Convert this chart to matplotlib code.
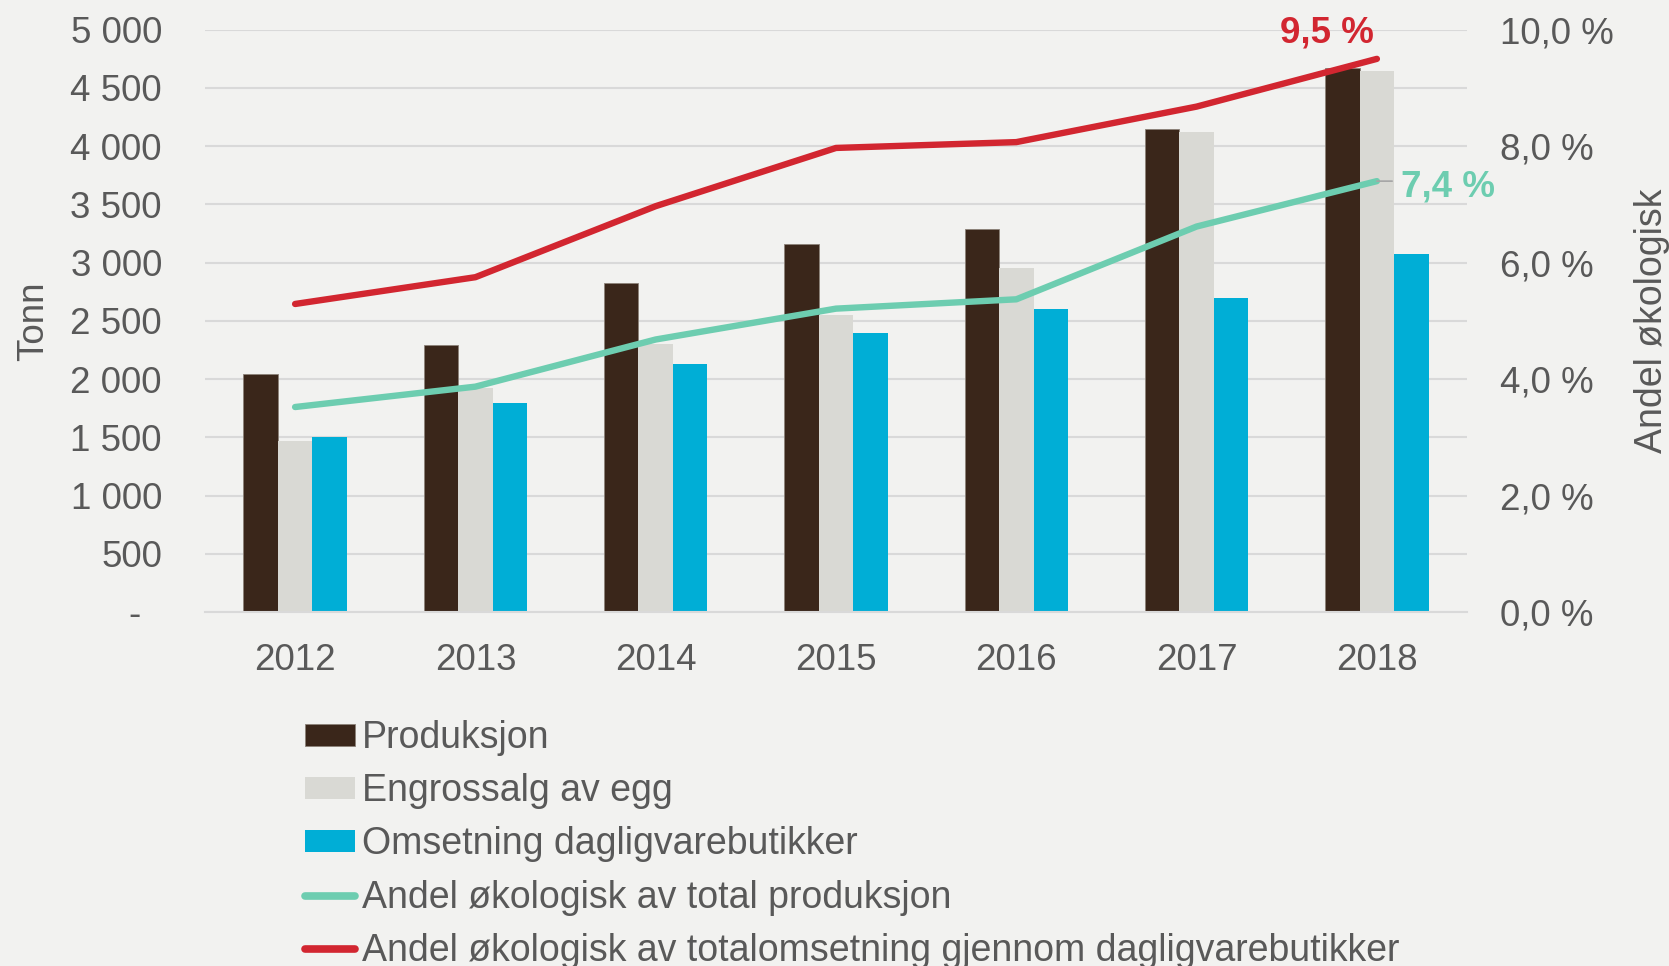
import matplotlib
matplotlib.use("Agg")
import matplotlib.pyplot as plt
import numpy as np
from matplotlib.ticker import FixedLocator, FuncFormatter

plt.rcParams['font.family'] = ['Liberation Sans', 'DejaVu Sans']

years = ["2012", "2013", "2014", "2015", "2016", "2017", "2018"]
produksjon = [2045, 2291, 2824, 3157, 3290, 4146, 4668]
engrossalg = [1471, 1926, 2305, 2554, 2954, 4118, 4644]
omsetning = [1502, 1796, 2130, 2400, 2603, 2694, 3076]
andel_prod = [3.52, 3.87, 4.68, 5.21, 5.37, 6.62, 7.4]
andel_oms = [5.29, 5.75, 6.97, 7.97, 8.07, 8.68, 9.5]

labels = ["Produksjon", "Engrossalg av egg", "Omsetning dagligvarebutikker",
          "Andel økologisk av total produksjon",
          "Andel økologisk av totalomsetning gjennom dagligvarebutikker"]

bg = "#F2F2F0"
c_prod = "#3A261A"
c_eng = "#D9D9D4"
c_oms = "#00AED6"
c_green = "#6DCDB0"
c_red = "#D22630"
txt = "#595959"
fs = 26.5
fs_leg = 27

fig = plt.figure(figsize=(16.69, 9.66), dpi=100, facecolor=bg)
ax = fig.add_axes([0.1228, 0.3665, 0.879 - 0.1228, 0.9692 - 0.3665])
ax.set_facecolor(bg)
ax2 = ax.twinx()

x = np.arange(len(years))
w = 0.191
b1 = ax.bar(x - w, produksjon, w, color=c_prod, edgecolor="#8C8279", linewidth=0.6,
            label=labels[0], zorder=2)
b2 = ax.bar(x, engrossalg, w, color=c_eng, label=labels[1], zorder=2)
b3 = ax.bar(x + w, omsetning, w, color=c_oms, label=labels[2], zorder=2)

l1, = ax2.plot(x, andel_prod, color=c_green, lw=4.6, solid_capstyle='round',
               solid_joinstyle='round', label=labels[3])
l2, = ax2.plot(x, andel_oms, color=c_red, lw=4.6, solid_capstyle='round',
               solid_joinstyle='round', label=labels[4])

ax.set_xlim(-0.5, len(years) - 0.5)
ax.set_ylim(0, 5000)
ax2.set_ylim(0, 10)

ax.yaxis.set_major_locator(FixedLocator(np.arange(0, 5001, 500)))
ax.yaxis.set_major_formatter(FuncFormatter(
    lambda v, p: "-  " if v == 0 else f"{int(v):,}".replace(",", " ")))
ax2.yaxis.set_major_locator(FixedLocator(np.arange(0, 10.01, 2)))
ax2.yaxis.set_major_formatter(FuncFormatter(lambda v, p: f"{v:.1f} %".replace(".", ",")))

ax.set_xticks(x)
ax.set_xticklabels(years)

ax.grid(axis='y', color="#D9D9D9", lw=1.5, zorder=0)
ax.set_axisbelow(True)
for a in (ax, ax2):
    for s in a.spines.values():
        s.set_visible(False)
ax.spines['bottom'].set_visible(True)
ax.spines['bottom'].set_color("#D9D9D9")
ax.spines['bottom'].set_linewidth(1.5)

ax.tick_params(axis='y', length=0, pad=31, labelsize=fs, labelcolor=txt)
ax.tick_params(axis='x', length=0, pad=22, labelsize=fs, labelcolor=txt)
ax2.tick_params(axis='y', length=0, pad=24, labelsize=fs, labelcolor=txt)

ax.set_ylabel("Tonn", fontsize=fs, color=txt, labelpad=14)
ax2.set_ylabel("Andel økologisk", fontsize=27, color=txt, labelpad=14)

# data labels
ax2.annotate("9,5 %", xy=(x[-1], andel_oms[-1]), xytext=(-2, 6), textcoords='offset points',
             ha='right', va='bottom', fontsize=fs, fontweight='bold', color=c_red)
ax2.annotate("7,4 %", xy=(x[-1], andel_prod[-1]), xytext=(17, -4), textcoords='offset points',
             ha='left', va='center', fontsize=fs, fontweight='bold', color=c_green)
ax2.annotate("", xy=(x[-1], andel_prod[-1]), xytext=(11, 0), textcoords='offset points',
             arrowprops=dict(arrowstyle='-', color='#A6A6A6', lw=1.2,
                             shrinkA=0, shrinkB=0))

leg = fig.legend(handles=[b1, b2, b3, l1, l2], labels=labels,
                 loc='upper left', bbox_to_anchor=(305 / 1669, 1 - 720 / 966),
                 frameon=False, fontsize=fs_leg, labelcolor=txt,
                 handlelength=1.34, handleheight=0.51, handletextpad=0.17,
                 labelspacing=0.46, borderpad=0, borderaxespad=0)
for h in leg.legend_handles[3:]:
    h.set_linewidth(5.5)

fig.savefig("out.png", dpi=100, facecolor=bg)
